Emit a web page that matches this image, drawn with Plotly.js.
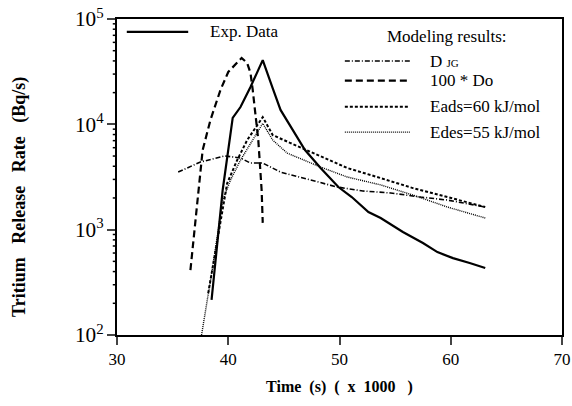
<!DOCTYPE html>
<html>
<head>
<meta charset="utf-8">
<script src="https://cdn.plot.ly/plotly-3.0.1.min.js"></script>
<style>html,body{margin:0;padding:0;background:#fff;}#chart{width:572px;height:406px;}</style>
</head>
<body>
<div id="chart"></div>
<script>
// Experimental data (time in s x 1000, rate in Bq/s)
const expT = [38.5, 39.5, 40.4, 41.1, 42.0, 43.1, 44.0, 44.7, 46.9, 48.3, 49.9, 51.1, 52.6, 53.7, 55.7, 57.5, 58.8, 60.2, 61.7, 63.1];
const expY = [215, 2380, 11500, 14600, 22600, 40700, 22000, 13700, 5700, 3850, 2540, 2040, 1470, 1290, 950, 746, 612, 537, 482, 432];

// Modeling: 100 * Do
const doT = [36.6, 37.3, 37.7, 38.4, 39.3, 40.0, 40.4, 41.2, 41.7, 42.0, 42.2, 42.7, 43.0, 43.1];
const doY = [413, 2380, 5700, 11000, 21200, 31400, 35000, 42700, 38200, 30700, 21200, 7100, 2380, 1160];

// Modeling: D_JG
const djgT = [35.5, 37.5, 39.7, 41.1, 42.0, 43.1, 44.7, 47.4, 49.8, 52.1, 54.6, 57.3, 59.7, 63.1];
const djgY = [3520, 4390, 5010, 4790, 4290, 4290, 3520, 2950, 2540, 2330, 2230, 2040, 1910, 1640];

// Modeling: Eads = 60 kJ/mol
const eadsT = [38.2, 39.9, 40.8, 41.7, 43.1, 44.0, 45.6, 47.6, 50.7, 53.7, 56.6, 59.7, 63.1];
const eadsY = [250, 2750, 4570, 7080, 11700, 7900, 6640, 5330, 3850, 3090, 2480, 2040, 1640];

// Modeling: Edes = 55 kJ/mol
const edesT = [37.6, 38.6, 39.5, 40.2, 41.1, 42.0, 43.1, 44.0, 45.3, 48.3, 50.7, 53.7, 56.6, 59.7, 63.1];
const edesY = [100, 442, 1900, 2950, 4570, 6600, 10200, 7080, 5330, 3930, 3160, 2660, 2130, 1640, 1290];

const xTicks = [30, 40, 50, 60, 70];
const yRangeLog = [2, 5]; // 10^2 .. 10^5
const yMinorTicks = [200, 300, 400, 500, 600, 700, 800, 900,
                     2000, 3000, 4000, 5000, 6000, 7000, 8000, 9000,
                     20000, 30000, 40000, 50000, 60000, 70000, 80000, 90000];

const xTitle = "<b>Time  (s)  (  x  1000   )</b>";
const yTitle = "<b>Tritium   Release   Rate   (Bq/s)</b>";
const legendMain = "Exp. Data";
const legendHeader = "Modeling results:";
const legendNames = ["D <span style='font-size:11px'>JG</span>", "100 * Do", "Eads=60 kJ/mol", "Edes=55 kJ/mol"];

const FONT = "Liberation Serif, Times New Roman, serif";
const styles = {
  exp:  {color: "#000", width: 2.2, dash: "solid"},
  djg:  {color: "#000", width: 1.6, dash: "5px,2px,1px,2px"},
  doo:  {color: "#000", width: 2.2, dash: "7px,4px"},
  eads: {color: "#000", width: 2.0, dash: "3px,2px"},
  edes: {color: "#000", width: 1.4, dash: "1px,1px"}
};

const traces = [
  {x: expT, y: expY, mode: "lines", line: styles.exp, name: "exp"},
  {x: doT, y: doY, mode: "lines", line: styles.doo, name: "do"},
  {x: djgT, y: djgY, mode: "lines", line: styles.djg, name: "djg"},
  {x: eadsT, y: eadsY, mode: "lines", line: styles.eads, name: "eads"},
  {x: edesT, y: edesY, mode: "lines", line: styles.edes, name: "edes"}
];

// Legend (paper coords)
const legStyles = [styles.djg, styles.doo, styles.eads, styles.edes];
const legY = [0.867, 0.805, 0.722, 0.642];
const shapes = [
  {type: "line", xref: "paper", yref: "paper", x0: 0.022, x1: 0.16, y0: 0.959, y1: 0.959, line: styles.exp}
];
// minor tick marks outside the log y axis (paper position of each log value)
yMinorTicks.forEach(v => {
  const yp = (Math.log10(v) - yRangeLog[0]) / (yRangeLog[1] - yRangeLog[0]);
  shapes.push({type: "line", xref: "paper", yref: "paper", x0: -0.0095, x1: 0, y0: yp, y1: yp, layer: "above", line: {color: "#000", width: 1.5}});
});
const annotations = [
  {xref: "paper", yref: "paper", x: 0.204, y: 0.959, xanchor: "left", yanchor: "middle", text: legendMain, showarrow: false, font: {family: FONT, size: 17, color: "#000"}},
  {xref: "paper", yref: "paper", x: 0.602, y: 0.946, xanchor: "left", yanchor: "middle", text: legendHeader, showarrow: false, font: {family: FONT, size: 17, color: "#000"}},
  {xref: "paper", yref: "paper", x: -0.218, y: 0.437, xanchor: "center", yanchor: "middle", textangle: -90, text: yTitle, showarrow: false, font: {family: FONT, size: 18, color: "#000"}}
];
legendNames.forEach((n, i) => {
  shapes.push({type: "line", xref: "paper", yref: "paper", x0: 0.512, x1: 0.658, y0: legY[i], y1: legY[i], line: legStyles[i]});
  annotations.push({xref: "paper", yref: "paper", x: 0.699, y: legY[i], xanchor: "left", yanchor: "middle", text: n, showarrow: false, font: {family: FONT, size: 17, color: "#000"}});
});

const layout = {
  width: 572, height: 406,
  margin: {l: 117, r: 10, t: 19, b: 71},
  paper_bgcolor: "#fff", plot_bgcolor: "#fff",
  showlegend: false,
  font: {family: FONT, color: "#000"},
  xaxis: {
    range: [30, 70], tickvals: xTicks, ticks: "outside", ticklen: 8, tickwidth: 2,
    showline: true, linecolor: "#000", linewidth: 2, mirror: true, showgrid: false, zeroline: false,
    tickfont: {family: FONT, size: 17},
    title: {text: xTitle, font: {family: FONT, size: 16}, standoff: 12}
  },
  yaxis: {
    type: "log", range: yRangeLog, tickmode: "linear", tick0: 0, dtick: 1,
    exponentformat: "power", showexponent: "all",
    ticks: "outside", ticklen: 8, tickwidth: 2,
    showline: true, linecolor: "#000", linewidth: 2, mirror: true, showgrid: false, zeroline: false,
    tickfont: {family: FONT, size: 17}
  },
  shapes: shapes,
  annotations: annotations
};

Plotly.newPlot("chart", traces, layout, {displayModeBar: false, staticPlot: true});
</script>
</body>
</html>
